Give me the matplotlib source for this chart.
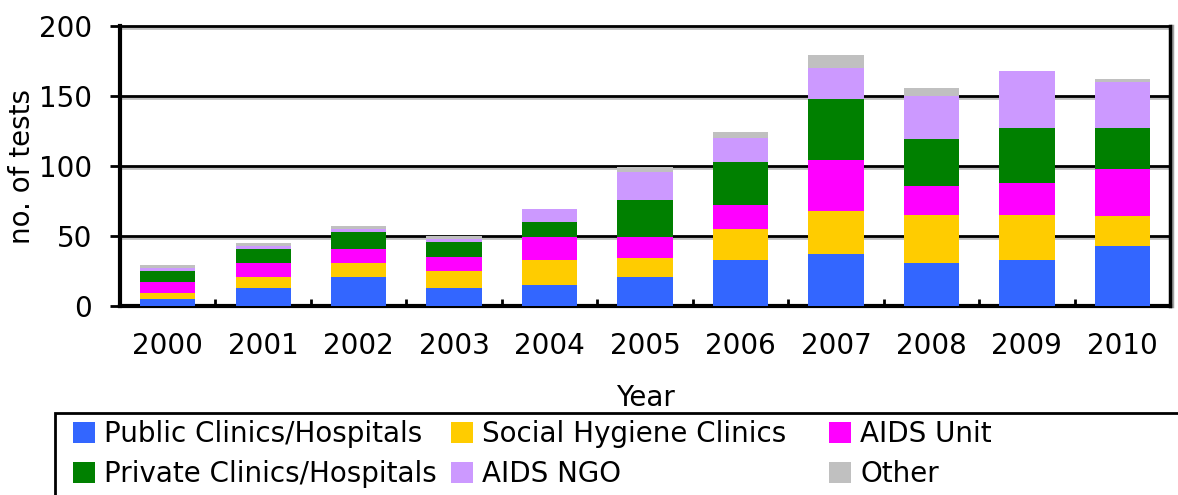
import matplotlib
matplotlib.use("Agg")
import matplotlib.pyplot as plt
import matplotlib.patheffects as pe
from matplotlib.patches import Rectangle, Patch
from matplotlib.ticker import FixedLocator
import numpy as np

years = ["2000", "2001", "2002", "2003", "2004", "2005", "2006", "2007", "2008", "2009", "2010"]
public = [5, 13, 21, 13, 15, 21, 33, 37, 31, 33, 43]
social = [4, 8, 10, 12, 18, 13, 22, 31, 34, 32, 21]
aids_unit = [8, 10, 10, 10, 16, 15, 17, 36, 21, 23, 34]
private = [8, 10, 12, 11, 11, 27, 31, 44, 33, 39, 29]
aids_ngo = [2, 2, 2, 2, 9, 20, 17, 22, 31, 41, 33]
other = [2, 2, 2, 2, 0, 3, 4, 9, 6, 0, 2]

series_names = ["Public Clinics/Hospitals", "Social Hygiene Clinics", "AIDS Unit",
                "Private Clinics/Hospitals", "AIDS NGO", "Other"]
series_vals = [public, social, aids_unit, private, aids_ngo, other]
colors = ["#3366FF", "#FFCC00", "#FF00FF", "#008000", "#CC99FF", "#C0C0C0"]

plt.rcParams['font.family'] = ['DejaVu Sans']
FS = 20

fig = plt.figure(figsize=(11.78, 4.95), dpi=100)
ax = fig.add_axes([120/1178, 1-306/495, 1050/1178, 280/495])

x = np.arange(len(years))
bottom = np.zeros(len(years))
for name, vals, c in zip(series_names, series_vals, colors):
    ax.bar(x, vals, 0.58, bottom=bottom, color=c, label=name, zorder=3)
    bottom += np.array(vals)

ax.set_xlim(-0.5, len(years) - 0.5)
ax.set_ylim(0, 200)

shadow = [pe.SimpleLineShadow(offset=(0, -1.5), shadow_color="#c0c0c0", alpha=1), pe.Normal()]
for yv in [50, 100, 150, 200]:
    ax.axhline(yv, color="black", lw=2, zorder=2, path_effects=shadow, clip_on=False)

ax.spines["top"].set_visible(False)
ax.spines["left"].set_linewidth(3)
ax.spines["bottom"].set_linewidth(3)
ax.spines["right"].set_linewidth(2.5)
ax.spines["right"].set_path_effects([pe.SimpleLineShadow(offset=(1.5, 0), shadow_color="#a0a0a0", alpha=1), pe.Normal()])

ax.set_yticks([0, 50, 100, 150, 200])
ax.tick_params(axis="y", direction="out", length=7, width=2, pad=13, labelsize=FS)
ax.set_xticks(x)
ax.set_xticklabels(years)
ax.tick_params(axis="x", which="major", length=0, pad=19, labelsize=FS)
ax.xaxis.set_minor_locator(FixedLocator(np.arange(0.5, len(years) - 1, 1)))
ax.tick_params(axis="x", which="minor", direction="in", length=5, width=2)

ax.set_ylabel("no. of tests", fontsize=FS, labelpad=2)
ax.set_xlabel("Year", fontsize=FS, labelpad=17)

# legend box
fig.patches.append(Rectangle((55/1178, -0.1), 2, (495-413)/495 + 0.1, transform=fig.transFigure,
                             fill=False, lw=2, edgecolor="black", clip_on=False))

col_x = [73, 451, 829]
groups = [(0, 3), (1, 4), (2, 5)]
for cx, (i, j) in zip(col_x, groups):
    hs = [Patch(facecolor=colors[i]), Patch(facecolor=colors[j])]
    fig.legend(hs, [series_names[i], series_names[j]], loc="upper left",
               bbox_to_anchor=(cx/1178, 1-420/495), bbox_transform=fig.transFigure,
               frameon=False, fontsize=FS, handlelength=0.78, handleheight=0.78,
               handletextpad=0.35, labelspacing=0.45, borderpad=0, borderaxespad=0)

fig.savefig("out.png", dpi=100)
